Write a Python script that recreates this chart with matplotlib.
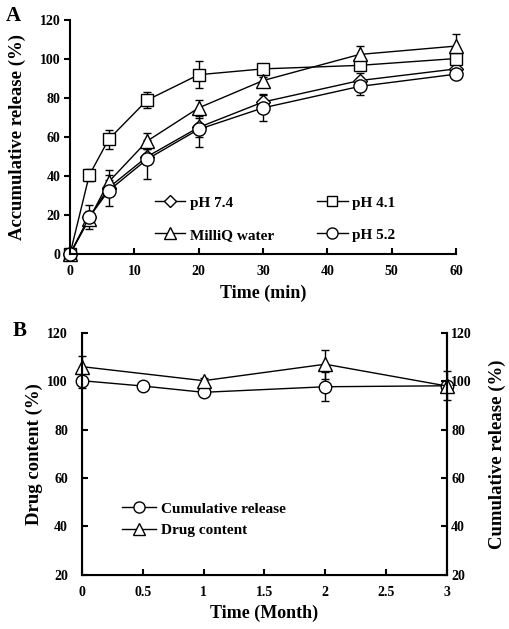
import numpy as np
import matplotlib
matplotlib.use('Agg')
import matplotlib.pyplot as plt
from matplotlib.lines import Line2D

plt.rcParams['font.family'] = ['Liberation Serif', 'DejaVu Serif']
plt.rcParams['font.weight'] = 'bold'

# panel A: release vs time (min)
t_min = [0, 3, 6, 12, 20, 30, 45, 60]
ph74 = [0, 19, 34, 50, 65, 78, 89, 95]
ph74_err = [0, 3, 4, 4, 5, 4, 4, 3]
ph41 = [0, 40.5, 58.8, 79, 92, 95, 96.8, 100.3]
ph41_err = [0, 3, 5, 4, 7, 2, 2, 2]
milliq = [0, 18, 37, 58, 75, 89, 102.4, 106.7]
milliq_err = [0, 3, 6, 4, 4, 2, 4.5, 6]
ph52 = [0, 19, 32.5, 48.7, 64, 75, 86, 92.3]
ph52_err = [0, 6, 8, 10, 9, 6.5, 4.5, 2]

# panel B: stability over months
t_month = [0, 0.5, 1, 2, 3]
cum_rel = [100.2, 98, 95.4, 97.7, 98.1]
cum_rel_err = [3, 1, 1, 6, 6]
drug_t = [0, 1, 2, 3]
drug = [106, 100.2, 107, 98]
drug_err = [4.5, 1, 6, 1]

TICK_FS = 10
XLAB_FS = 13
YLAB_FS = 13.5

fig = plt.figure(figsize=(5.09, 6.29), dpi=100)

ax = fig.add_axes([0.1375, 0.596, 0.7585, 0.372])
mk = dict(color='black', mfc='white', mec='black', lw=1, capsize=3, elinewidth=1, capthick=1, clip_on=False)
ax.errorbar(t_min, ph74, yerr=ph74_err, marker='D', ms=7.5, **mk)
ax.errorbar(t_min, ph41, yerr=ph41_err, marker='s', ms=8.5, **mk)
ax.errorbar(t_min, milliq, yerr=milliq_err, marker='^', ms=10, **mk)
ax.errorbar(t_min, ph52, yerr=ph52_err, marker='o', ms=9.5, **mk)
ax.set_xlim(0, 60)
ax.set_ylim(0, 120)
ax.set_xticks(np.arange(0, 61, 10))
ax.set_yticks(np.arange(0, 121, 20))
for s in ['top', 'right']:
    ax.spines[s].set_visible(False)
for s in ['left', 'bottom']:
    ax.spines[s].set_linewidth(1.5)
ax.tick_params(axis='x', direction='in', length=4, width=1.5, labelsize=TICK_FS, pad=8)
ax.tick_params(axis='y', direction='out', length=4, width=1.5, labelsize=TICK_FS, pad=3)
ax.set_xlabel('Time (min)', fontsize=XLAB_FS, fontweight='bold', labelpad=5)
ax.set_ylabel('Accumulative release (%)', fontsize=YLAB_FS, fontweight='bold', labelpad=10)

lh = lambda m, s: Line2D([], [], color='black', lw=1, marker=m, ms=s, mfc='white', mec='black')
ax.legend([lh('D', 6.5), lh('^', 8.5), lh('s', 7.5), lh('o', 8)],
          ['pH 7.4', 'MilliQ water', 'pH 4.1', 'pH 5.2'], ncol=2,
          loc='lower left', bbox_to_anchor=(0.2, 0.02), frameon=False, borderpad=0,
          fontsize=11, handlelength=2.0, columnspacing=2.8, labelspacing=1.2,
          handletextpad=0.3)
fig.text(0.012, 0.99, 'A', fontsize=15, fontweight='bold', va='top')

# panel B
bx = fig.add_axes([0.161, 0.086, 0.717, 0.385])
mk2 = dict(color='black', mfc='white', mec='black', lw=1, capsize=3, elinewidth=1, capthick=1, clip_on=False)
bx.errorbar(t_month, cum_rel, yerr=cum_rel_err, marker='o', ms=9, **mk2)
bx.errorbar(drug_t, drug, yerr=drug_err, marker='^', ms=10, **mk2)
bx.set_xlim(0, 3)
bx.set_ylim(20, 120)
bx.set_xticks([0, 0.5, 1, 1.5, 2, 2.5, 3])
bx.set_xticklabels(['0', '0.5', '1', '1.5', '2', '2.5', '3'])
bx.set_yticks(np.arange(20, 121, 20))
bx.spines['top'].set_visible(False)
for s in ['left', 'bottom', 'right']:
    bx.spines[s].set_linewidth(1.5)
bx.tick_params(axis='x', direction='in', length=4, width=1.5, labelsize=TICK_FS, pad=8)
bx.tick_params(axis='y', direction='in', length=4, width=1.5, labelsize=TICK_FS, pad=10)
bx.set_xlabel('Time (Month)', fontsize=XLAB_FS, fontweight='bold', labelpad=4)
bx.set_ylabel('Drug content (%)', fontsize=YLAB_FS, fontweight='bold', labelpad=3)

bx2 = bx.twinx()
bx2.set_ylim(20, 120)
bx2.set_yticks(np.arange(20, 121, 20))
bx2.spines['top'].set_visible(False)
bx2.spines['right'].set_linewidth(1.5)
bx2.tick_params(axis='y', direction='in', length=4, width=1.5, labelsize=TICK_FS, pad=3)
bx2.set_ylabel('Cumulative release (%)', fontsize=YLAB_FS, fontweight='bold', labelpad=12)

bx.legend([lh('o', 8), lh('^', 8.5)], ['Cumulative release', 'Drug content'], loc='lower left',
          bbox_to_anchor=(0.09, 0.125), frameon=False, borderpad=0, fontsize=11,
          handlelength=2.2, handletextpad=0.3, labelspacing=0.5)
fig.text(0.025, 0.49, 'B', fontsize=15, fontweight='bold', va='top')

fig.savefig('out.png', dpi=100)
